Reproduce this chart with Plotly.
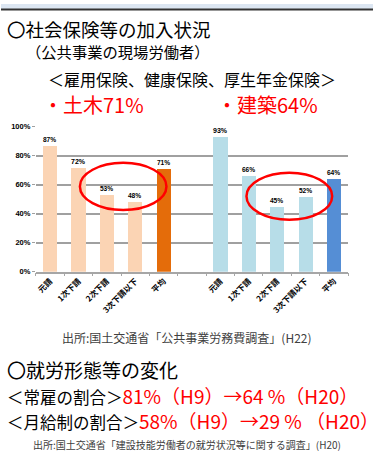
import plotly.graph_objects as go

W, H = 373, 462

# Social insurance enrolment rates (public-works site workers)
categories = ["元請", "1次下請", "2次下請", "3次下請以下", "平均"]
civil_values = [87, 72, 53, 48, 71]          # 土木
building_values = [93, 66, 45, 52, 64]       # 建築
y_ticks = [0, 20, 40, 60, 80, 100]

civil_colors = ["#FBD4B4"] * 4 + ["#E46C0A"]
building_colors = ["#B7DDE8"] * 4 + ["#558ED5"]

civil_x = list(range(len(categories)))
building_x = [i + len(categories) + 1 for i in range(len(categories))]
n_slots = len(categories) * 2 + 1

JP = "Noto Sans CJK JP"
RED = "#FF0000"


def px(x):
    return x / W


def py(y):
    return 1 - y / H


fig = go.Figure()
for xs, vals, cols in [(civil_x, civil_values, civil_colors),
                       (building_x, building_values, building_colors)]:
    fig.add_trace(go.Bar(
        x=xs, y=vals, width=0.5, marker=dict(color=cols, line=dict(width=0)),
        text=[f"{v}%" for v in vals], textposition="outside",
        textfont=dict(family="Liberation Sans", size=7, color="#000000"),
        texttemplate="<b>%{text}</b>", cliponaxis=False, showlegend=False,
    ))

plot_left, plot_right, plot_top, plot_bottom = 35, 348, 125, 273

fig.update_layout(
    width=W, height=H, margin=dict(l=0, r=0, t=0, b=0),
    paper_bgcolor="white", plot_bgcolor="white", bargap=0,
    xaxis=dict(
        domain=[px(plot_left), px(plot_right)], range=[-0.5, n_slots - 0.5],
        tickvals=civil_x + building_x,
        ticktext=[f"<b>{c}</b>" for c in categories] * 2,
        tickangle=-45, tickfont=dict(family=JP, size=8, color="#000000"),
        showgrid=False, zeroline=False, showline=True, linecolor="#A6A6A6",
        linewidth=1.5, ticks="",
    ),
    xaxis2=dict(
        domain=[px(plot_left), px(plot_right)], range=[-0.5, n_slots - 0.5],
        overlaying="x", anchor="y", side="bottom",
        tickvals=[i - 0.5 for i in range(n_slots + 1)], showticklabels=False,
        ticks="outside", ticklen=3, tickcolor="#A6A6A6", tickwidth=1,
        showgrid=False, zeroline=False, showline=False,
    ),
    yaxis=dict(
        domain=[py(plot_bottom), py(plot_top)], range=[0, 100],
        tickvals=y_ticks, ticktext=[f"<b>{v}%</b>" for v in y_ticks],
        tickfont=dict(family="Liberation Sans", size=7.5, color="#000000"),
        showgrid=True, gridcolor="#A0A0A0", gridwidth=1.5, zeroline=False,
        ticks="outside", ticklen=3, tickcolor="#A0A0A0", showline=False,
    ),
)

# invisible trace to activate the tick-mark axis
fig.add_trace(go.Scatter(x=[0], y=[0], xaxis="x2", mode="markers",
                         marker=dict(opacity=0), showlegend=False, hoverinfo="skip"))

shapes = [
    dict(type="rect", xref="paper", yref="paper", x0=0, x1=1, y0=py(5), y1=1,
         fillcolor="#DCE6F2", line=dict(width=0), layer="below"),
    dict(type="line", xref="paper", yref="paper", x0=0, x1=1, y0=py(5.5), y1=py(5.5),
         line=dict(color="#333333", width=2)),
    # highlight around the lower-tier subcontractor bars
    dict(type="circle", xref="x", yref="y", x0=1.05, x1=4.1, y0=42.5, y1=75,
         line=dict(color=RED, width=2.5)),
    dict(type="circle", xref="x", yref="y", x0=6.92, x1=9.94, y0=35.8, y1=68.2,
         line=dict(color=RED, width=2.5)),
]
fig.update_layout(shapes=shapes)


def text(x, y, s, size, color="#000000", xanchor="left", family=JP):
    fig.add_annotation(x=px(x), y=py(y), xref="paper", yref="paper", text=s,
                       showarrow=False, xanchor=xanchor, yanchor="middle",
                       font=dict(family=family, size=size, color=color))


text(4, 26, "〇社会保険等の加入状況", 18.5)
text(23, 48, "（公共事業の現場労働者）", 15.3)
text(192, 76, "＜雇用保険、健康保険、厚生年金保険＞", 16, xanchor="center")
text(40, 103, f"・土木{civil_values[-1]}%", 20, RED)
text(215, 103, f"・建築{building_values[-1]}%", 20, RED)
text(186, 340, "出所:国土交通省「公共事業労務費調査」(H22)", 12, "#404040", "center")
text(4, 373, "〇就労形態等の変化", 19)
text(4, 399, "＜常雇の割合＞<span style='color:#FF0000;font-size:19px'>81%（H9）→64 %（H20）</span>", 16.5)
text(4, 425, "＜月給制の割合＞<span style='color:#FF0000;font-size:19px'>58%（H9）→29 % （H20）</span>", 16.5)
text(186, 449, "出所:国土交通省「建設技能労働者の就労状況等に関する調査」(H20)", 10, "#404040", "center")

fig.write_html("out.html")
